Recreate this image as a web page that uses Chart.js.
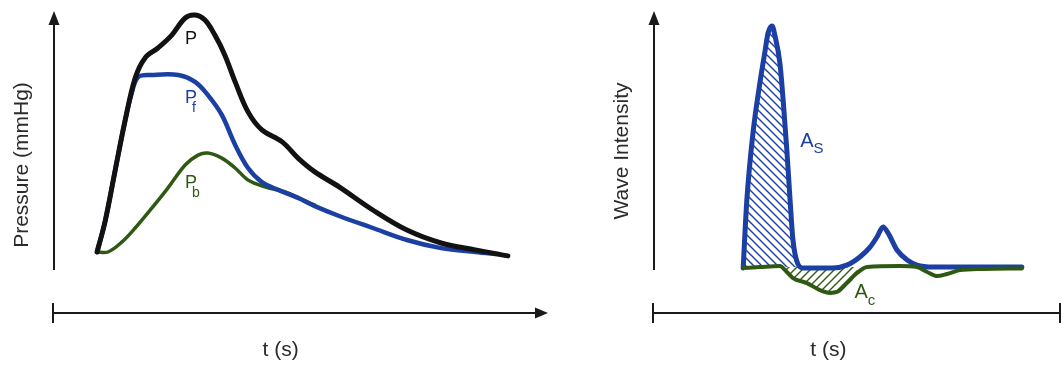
<!DOCTYPE html>
<html>
<head>
<meta charset="utf-8">
<script src="https://cdn.jsdelivr.net/npm/chart.js@4.4.0/dist/chart.umd.min.js"></script>
<style>
  body { margin: 0; background: #fff; width: 1062px; height: 365px; overflow: hidden; position: relative; }
  .panel { position: absolute; top: 0; height: 365px; }
</style>
</head>
<body>
<div class="panel" style="left:0;width:600px"><canvas id="pressureChart" width="600" height="365"></canvas></div>
<div class="panel" style="left:600px;width:462px"><canvas id="waveChart" width="462" height="365"></canvas></div>
<script>
// LEFT: pressure and its forward / backward parts (t in s, arbitrary scale 0..1)
const pTime = [0.089, 0.105, 0.125, 0.145, 0.166, 0.186, 0.212, 0.240, 0.267, 0.287, 0.307, 0.327,
  0.347, 0.368, 0.394, 0.422, 0.463, 0.495, 0.529, 0.578, 0.646, 0.715, 0.784, 0.853, 0.919];
const pValues = [20, 30, 46.7, 63.3, 78, 84.7, 88, 92.3, 98, 99, 97.3, 92.3,
  85.7, 76.7, 66.7, 60.7, 56.7, 51.3, 46.7, 41.7, 34.0, 27.3, 23.0, 20.7, 18.7];

const pfTime = [0.089, 0.105, 0.125, 0.145, 0.158, 0.172, 0.200, 0.253, 0.287, 0.313, 0.341, 0.368,
  0.394, 0.422, 0.455, 0.495, 0.529, 0.578, 0.646, 0.715, 0.784, 0.853, 0.900];
const pfValues = [20, 30, 46.7, 63.3, 72.3, 78.3, 79, 79, 76.7, 72.3, 65.7, 55.7,
  48, 43.3, 40.7, 38, 35.3, 32.0, 28.0, 24.0, 21.3, 20.0, 19.3];

const pbTime = [0.089, 0.111, 0.139, 0.166, 0.200, 0.232, 0.267, 0.293, 0.313, 0.341, 0.368,
  0.394, 0.428, 0.469, 0.529];
const pbValues = [20, 20, 23.3, 28, 34.7, 41.3, 49, 52.3, 53, 51.3, 48,
  44, 41.7, 40, 35.6];

// RIGHT: wave intensity
const wsTime = [0.221, 0.230, 0.245, 0.262, 0.275, 0.282, 0.292, 0.299, 0.311, 0.319, 0.328, 0.336, 0.343,
  0.355, 0.368, 0.441, 0.475, 0.507, 0.532, 0.549, 0.564, 0.576, 0.598, 0.623, 0.647, 0.686, 0.770, 0.904];
const wsValues = [-0.4, 27.9, 55.8, 76.7, 90.4, 97.5, 100.4, 96.3, 85.0, 69.6, 48.8, 27.9, 11.3,
  1.3, -0.4, -0.4, 0.8, 4.2, 8.3, 12.5, 16.7, 14.2, 7.1, 2.9, 0.8, 0, 0, 0];

const wcTime = [0.221, 0.262, 0.311, 0.328, 0.343, 0.377, 0.409, 0.434, 0.451, 0.475, 0.500, 0.525,
  0.605, 0.647, 0.672, 0.696, 0.721, 0.752, 0.809, 0.904];
const wcValues = [-0.4, 0, 0.4, -2.1, -4.6, -6.7, -9.6, -10.8, -10.4, -6.7, -2.5, 0,
  0.4, 0, -2.1, -3.8, -2.9, -1.3, -0.8, -0.6];

// hatched areas (time windows)
const asWindow = [0.221, 0.368];
const acWindow = [0.311, 0.500];

const BLACK = '#121212';
const BLUE = '#1b3fa3';
const GREEN = '#2e5912';

const pressureLabels = [
  { text: 'P', sub: '', t: 0.279, v: 91, color: BLACK },
  { text: 'P', sub: 'f', t: 0.279, v: 71.3, color: BLUE },
  { text: 'P', sub: 'b', t: 0.279, v: 43, color: GREEN }
];
const waveLabels = [
  { text: 'A', sub: 'S', t: 0.377, v: 52.5, color: BLUE },
  { text: 'A', sub: 'c', t: 0.510, v: -10.8, color: GREEN }
];

const pts = (xs, ys) => xs.map((x, i) => ({ x: x, y: ys[i] }));
const windowPts = (xs, ys, w) => pts(xs, ys).filter(p => p.x >= w[0] && p.x <= w[1]);

const hatch = (color, dir) => {
  const c = document.createElement('canvas');
  c.width = c.height = 8;
  const g = c.getContext('2d');
  g.strokeStyle = color;
  g.lineWidth = 1.4;
  g.beginPath();
  if (dir === 'back') {
    g.moveTo(-2, -2); g.lineTo(10, 10);
    g.moveTo(-2, 6); g.lineTo(2, 10);
    g.moveTo(6, -2); g.lineTo(10, 2);
  } else {
    g.moveTo(-2, 10); g.lineTo(10, -2);
    g.moveTo(-2, 2); g.lineTo(2, -2);
    g.moveTo(6, 10); g.lineTo(10, 6);
  }
  g.stroke();
  return g.createPattern(c, 'repeat');
};

const FONT = '"Liberation Sans", Arial, sans-serif';

const sketchAxes = {
  id: 'sketchAxes',
  afterDraw(chart, args, opts) {
    const { ctx, chartArea: a } = chart;
    ctx.save();
    ctx.strokeStyle = '#1a1a1a';
    ctx.fillStyle = '#1a1a1a';
    ctx.lineWidth = 2;
    const yx = a.left + 1;
    ctx.beginPath(); ctx.moveTo(yx, a.top + 258); ctx.lineTo(yx, a.top + 10); ctx.stroke();
    ctx.beginPath(); ctx.moveTo(yx, a.top - 1); ctx.lineTo(yx - 5.5, a.top + 13); ctx.lineTo(yx + 5.5, a.top + 13);
    ctx.closePath(); ctx.fill();

    const xy = a.bottom + 1;
    ctx.beginPath(); ctx.moveTo(a.left, xy); ctx.lineTo(opts.arrow ? a.right - 10 : a.right, xy); ctx.stroke();
    ctx.beginPath(); ctx.moveTo(a.left, xy - 10); ctx.lineTo(a.left, xy + 10); ctx.stroke();
    if (opts.arrow) {
      ctx.beginPath(); ctx.moveTo(a.right, xy); ctx.lineTo(a.right - 13, xy - 5.5); ctx.lineTo(a.right - 13, xy + 5.5);
      ctx.closePath(); ctx.fill();
    } else {
      ctx.beginPath(); ctx.moveTo(a.right - 1, xy - 10); ctx.lineTo(a.right - 1, xy + 10); ctx.stroke();
    }

    ctx.fillStyle = '#2b2b2b';
    ctx.font = '21px ' + FONT;
    ctx.textAlign = 'center';
    ctx.textBaseline = 'middle';
    ctx.fillText(opts.xTitle, a.left + a.width * opts.xTitleAt, 350);
    ctx.save();
    ctx.translate(opts.yTitleX, opts.yTitleY);
    ctx.rotate(-Math.PI / 2);
    ctx.fillText(opts.yTitle, 0, 0);
    ctx.restore();

    const sx = chart.scales.x, sy = chart.scales.y;
    opts.labels.forEach(l => {
      const x = sx.getPixelForValue(l.t), y = sy.getPixelForValue(l.v);
      ctx.fillStyle = l.color;
      ctx.textAlign = 'center';
      ctx.font = opts.labelSize + 'px ' + FONT;
      const w = ctx.measureText(l.text).width;
      ctx.fillText(l.text, x, y);
      if (l.sub) {
        ctx.textAlign = 'left';
        ctx.font = opts.subSize + 'px ' + FONT;
        ctx.fillText(l.sub, x + w / 2 + opts.subDx, y + opts.subDy);
      }
    });
    ctx.restore();
  }
};

const line = (data, color, width, order, smooth) => Object.assign({
  data: data, borderColor: color, borderWidth: width, order: order,
  pointRadius: 0, fill: false,
  borderCapStyle: 'round', borderJoinStyle: 'round'
}, smooth ? { tension: 0.35 } : { cubicInterpolationMode: 'monotone' });

const baseOptions = (yMin, yMax, padRight, axes) => ({
  responsive: false,
  animation: false,
  events: [],
  layout: { padding: { left: 53, right: padRight, top: 12, bottom: 53 } },
  scales: {
    x: { type: 'linear', min: 0, max: 1, display: false },
    y: { type: 'linear', min: yMin, max: yMax, display: false }
  },
  plugins: { legend: { display: false }, tooltip: { enabled: false }, sketchAxes: axes }
});

const renderPressureChart = () => new Chart(document.getElementById('pressureChart'), {
  type: 'line',
  data: {
    datasets: [
      line(pts(pTime, pValues), BLACK, 5, 0, true),
      line(pts(pfTime, pfValues), BLUE, 4.5, 1, true),
      line(pts(pbTime, pbValues), GREEN, 3.5, 2, true)
    ]
  },
  options: baseOptions(0, 100, 52, {
    arrow: true, xTitle: 't (s)', xTitleAt: 0.46,
    yTitle: 'Pressure (mmHg)', yTitleX: 22, yTitleY: 165,
    labels: pressureLabels, labelSize: 18, subSize: 14, subDx: -5, subDy: 10
  }),
  plugins: [sketchAxes]
});

const renderWaveChart = () => new Chart(document.getElementById('waveChart'), {
  type: 'line',
  data: {
    datasets: [
      line(pts(wcTime, wcValues), GREEN, 4, 0),
      line(pts(wsTime, wsValues), BLUE, 5, 1),
      Object.assign(line(windowPts(wsTime, wsValues, asWindow), BLUE, 0, 2),
        { fill: 'origin', backgroundColor: hatch(BLUE, 'back') }),
      Object.assign(line(windowPts(wcTime, wcValues, acWindow), GREEN, 0, 3),
        { fill: 'origin', backgroundColor: hatch(GREEN, 'fwd') })
    ]
  },
  options: baseOptions(-18.75, 106.25, 1, {
    arrow: false, xTitle: 't (s)', xTitleAt: 0.43,
    yTitle: 'Wave Intensity', yTitleX: 22, yTitleY: 151,
    labels: waveLabels, labelSize: 20, subSize: 15, subDx: 0, subDy: 8
  }),
  plugins: [sketchAxes]
});

renderPressureChart();
renderWaveChart();
</script>
</body>
</html>
